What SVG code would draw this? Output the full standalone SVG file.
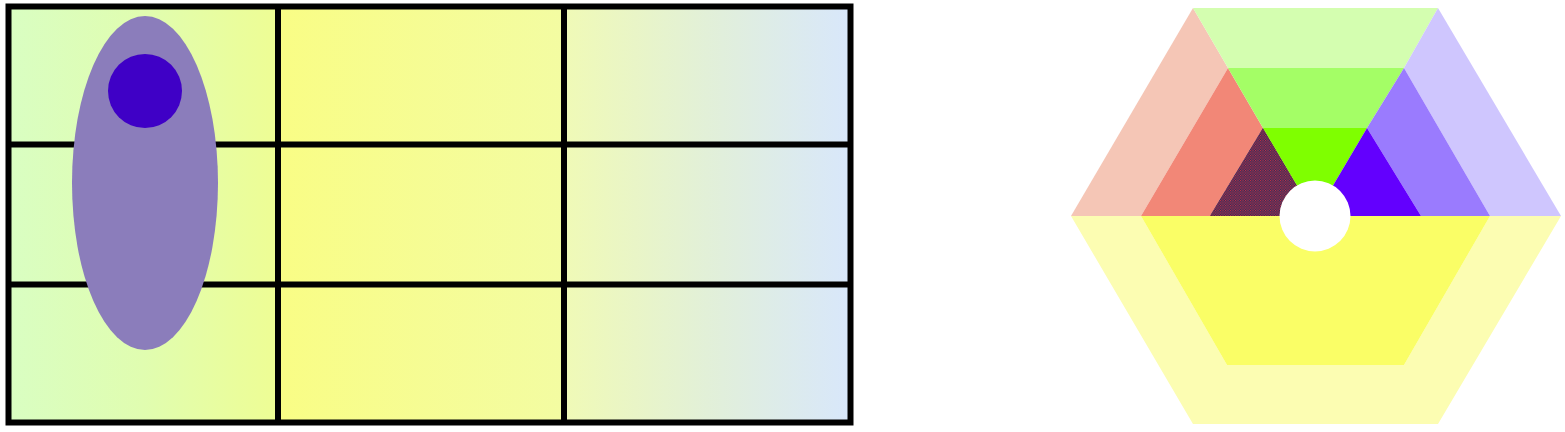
<svg xmlns="http://www.w3.org/2000/svg" width="1565" height="432" viewBox="0 0 1565 432">
<defs>
<linearGradient id="g1" gradientUnits="userSpaceOnUse" x1="8" y1="0" x2="278" y2="0">
<stop offset="0" stop-color="#d9fec2"/>
<stop offset="0.5" stop-color="#e0fdb0"/>
<stop offset="1" stop-color="#eefd94"/>
</linearGradient>
<linearGradient id="g2" gradientUnits="userSpaceOnUse" x1="278" y1="0" x2="564" y2="0">
<stop offset="0" stop-color="#f9fd85"/>
<stop offset="1" stop-color="#f3fca2"/>
</linearGradient>
<linearGradient id="g3" gradientUnits="userSpaceOnUse" x1="564" y1="0" x2="850" y2="0">
<stop offset="0" stop-color="#f0fab6"/>
<stop offset="0.5" stop-color="#e2f0d8"/>
<stop offset="1" stop-color="#d8e7fb"/>
</linearGradient>
<pattern id="hatch" patternUnits="userSpaceOnUse" width="2.5" height="2.5">
<rect width="2.5" height="2.5" fill="#2e2c5c"/>
<rect width="1.1" height="1.1" fill="#d03040"/>
<rect x="1.25" y="1.25" width="1.1" height="1.1" fill="#d03040"/>
</pattern>
<style>
.grid{fill:none;stroke:#000;stroke-width:6}
</style>
</defs>
<g id="grid">
<rect x="8.5" y="6.5" width="270" height="416" fill="url(#g1)"/>
<rect x="278" y="6.5" width="286" height="416" fill="url(#g2)"/>
<rect x="564" y="6.5" width="286.5" height="416" fill="url(#g3)"/>
<rect class="grid" x="8.5" y="6.5" width="842" height="416"/>
<line class="grid" x1="278" y1="6.5" x2="278" y2="422.5"/>
<line class="grid" x1="564" y1="6.5" x2="564" y2="422.5"/>
<line class="grid" x1="8.5" y1="144.5" x2="850.5" y2="144.5"/>
<line class="grid" x1="8.5" y1="284.5" x2="850.5" y2="284.5"/>
</g>
<g id="ellipse">
<ellipse cx="145" cy="183" rx="73" ry="167" fill="#8b7dbb"/>
</g>
<g id="dot">
<circle cx="145" cy="91" r="37" fill="#3f00c6"/>
</g>
<g id="hexagon">
<polygon points="1071,216 1193,8 1228,68 1141,216" fill="#f5c6b6"/>
<polygon points="1141,216 1228,68 1263,128 1210,216" fill="#f28777"/>
<polygon points="1210,216 1263,128 1315,216" fill="#4e2e56"/>
<polygon points="1210,216 1263,128 1315,216" fill="url(#hatch)"/>
<polygon points="1193,8 1438,8 1404,68 1228,68" fill="#d4feb0"/>
<polygon points="1228,68 1404,68 1367,128 1263,128" fill="#a4fe66"/>
<polygon points="1263,128 1367,128 1315,216" fill="#7fff00"/>
<polygon points="1438,8 1561,216 1490,216 1404,68" fill="#cfc6fe"/>
<polygon points="1404,68 1490,216 1421,216 1367,128" fill="#9a7bfe"/>
<polygon points="1367,128 1421,216 1315,216" fill="#6300fe"/>
<polygon points="1071,216 1193,424 1438,424 1561,216 1490,216 1404,365 1227,365 1141,216" fill="#fcfdb2"/>
<polygon points="1141,216 1227,365 1404,365 1490,216" fill="#fafe66"/>
<circle cx="1315" cy="216" r="35.5" fill="#ffffff"/>
</g>
</svg>
